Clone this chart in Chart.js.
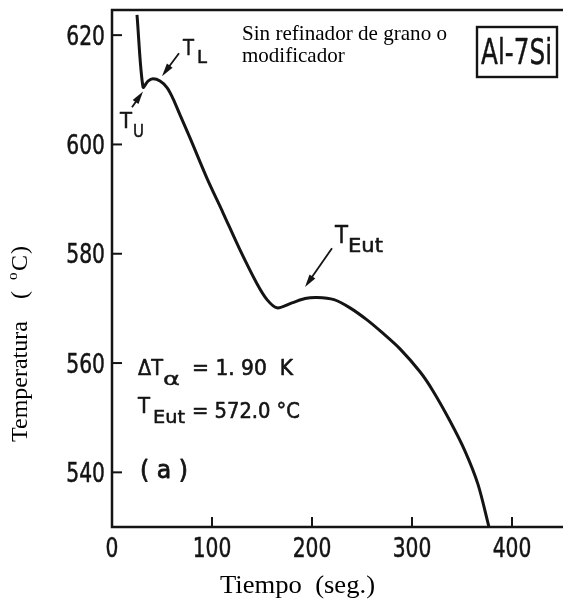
<!DOCTYPE html>
<html>
<head>
<meta charset="utf-8">
<script src="https://cdn.jsdelivr.net/npm/chart.js@4.4.1/dist/chart.umd.min.js"></script>
<style>
  html, body { margin: 0; padding: 0; background: #fff; }
  #wrap { width: 563px; height: 603px; }
</style>
</head>
<body>
<div id="wrap"><canvas id="curva"></canvas></div>
<script>
// curva de enfriamiento Al-7Si, tiempo (s) vs temperatura (°C)
const TIEMPO = [25, 31, 36, 41, 48, 55, 61, 68, 78, 95, 111, 128, 145, 155, 165,
                180, 193, 205, 222, 238, 255, 270, 288, 308, 321, 338, 353, 366, 377];
const TEMP   = [623.7, 610.5, 611.6, 612.0, 611.6, 610.4, 608.4, 605.4, 601.2, 593.8,
                587.5, 580.7, 574.5, 571.6, 570.1, 571.0, 571.8, 572.0, 571.6, 570.1,
                567.9, 565.6, 562.6, 558.4, 554.9, 549.4, 543.9, 537.8, 530.0];

const X_TICKS = [0, 100, 200, 300, 400];
const Y_TICKS = [540, 560, 580, 600, 620];

const T_EUT   = '572.0';
const DELTA_T = '1.90';

const TINTA = '#141414';
const SANS  = "'DejaVu Sans', sans-serif";
const SERIF = "'Liberation Serif', 'Times New Roman', serif";

// texto con compresion horizontal (ancho fijo o factor); grueso = trazo extra
function texto(ctx, str, x, y, size, fam, opts) {
  opts = opts || {};
  ctx.save();
  ctx.font = size + 'px ' + fam;
  const w = ctx.measureText(str).width;
  let sx = opts.sx || 1;
  if (opts.ancho) sx = opts.ancho / w;
  ctx.translate(x, y);
  ctx.scale(sx, 1);
  ctx.textAlign = opts.align || 'left';
  ctx.textBaseline = 'alphabetic';
  ctx.fillStyle = opts.color || TINTA;
  ctx.fillText(str, 0, 0);
  if (opts.grueso) {
    ctx.strokeStyle = opts.color || TINTA;
    ctx.lineWidth = opts.grueso;
    ctx.lineJoin = 'round';
    ctx.strokeText(str, 0, 0);
  }
  ctx.restore();
}

function flecha(ctx, x0, y0, x1, y1) {
  const ang = Math.atan2(y1 - y0, x1 - x0);
  const largo = 13, medio = 3.5;
  ctx.save();
  ctx.strokeStyle = TINTA;
  ctx.fillStyle = TINTA;
  ctx.lineWidth = 1.8;
  ctx.beginPath();
  ctx.moveTo(x0, y0);
  ctx.lineTo(x1 - Math.cos(ang) * largo * 0.8, y1 - Math.sin(ang) * largo * 0.8);
  ctx.stroke();
  ctx.beginPath();
  ctx.moveTo(x1, y1);
  ctx.lineTo(x1 - Math.cos(ang) * largo - Math.sin(ang) * medio,
             y1 - Math.sin(ang) * largo + Math.cos(ang) * medio);
  ctx.lineTo(x1 - Math.cos(ang) * largo + Math.sin(ang) * medio,
             y1 - Math.sin(ang) * largo - Math.cos(ang) * medio);
  ctx.closePath();
  ctx.fill();
  ctx.restore();
}

const marco = {
  id: 'marco',
  afterDraw(chart) {
    const ctx = chart.ctx;
    const a = chart.chartArea;
    const sx = chart.scales.x, sy = chart.scales.y;

    // ejes y borde superior
    ctx.save();
    ctx.strokeStyle = TINTA;
    ctx.lineWidth = 2.5;
    ctx.beginPath();
    ctx.moveTo(a.right, a.top);
    ctx.lineTo(a.left, a.top);
    ctx.lineTo(a.left, a.bottom);
    ctx.lineTo(a.right, a.bottom);
    ctx.stroke();

    // marcas hacia adentro
    ctx.lineWidth = 2;
    Y_TICKS.forEach(v => {
      const py = sy.getPixelForValue(v);
      ctx.beginPath();
      ctx.moveTo(a.left, py);
      ctx.lineTo(a.left + 10, py);
      ctx.stroke();
      texto(ctx, String(v), a.left - 7, py + 9.5, 26, SANS, { sx: 0.78, align: 'right', grueso: 0.5 });
    });
    X_TICKS.forEach(v => {
      const px = sx.getPixelForValue(v);
      ctx.beginPath();
      ctx.moveTo(px, a.bottom);
      ctx.lineTo(px, a.bottom - 10);
      ctx.stroke();
      texto(ctx, String(v), px, 557, 26, SANS, { sx: 0.78, align: 'center', grueso: 0.5 });
    });
    ctx.restore();

    // titulos de ejes
    texto(ctx, 'Tiempo  (seg.)', 220, 593, 26, SERIF, { ancho: 155, color: '#000' });
    ctx.save();
    ctx.translate(27, 442);
    ctx.rotate(-Math.PI / 2);
    texto(ctx, 'Temperatura', 0, 0, 24, SERIF, { color: '#000' });
    texto(ctx, '(', 143, 0, 24, SERIF, { color: '#000' });
    texto(ctx, 'o', 162, -10, 15, SERIF, { color: '#000' });
    texto(ctx, 'C', 171, 0, 24, SERIF, { color: '#000' });
    texto(ctx, ')', 188, 0, 24, SERIF, { color: '#000' });
    ctx.restore();

    // nota superior
    texto(ctx, 'Sin refinador de grano o', 242, 40, 21, SERIF, { ancho: 205, color: '#000' });
    texto(ctx, 'modificador', 242, 62, 21, SERIF, { color: '#000' });

    // recuadro de aleacion
    ctx.save();
    ctx.strokeStyle = TINTA;
    ctx.lineWidth = 2.4;
    ctx.strokeRect(477, 27, 80, 50);
    ctx.restore();
    texto(ctx, 'Al-7Si', 481, 64, 36, SANS, { ancho: 71, grueso: 0.5 });

    // flechas T_U, T_L, T_Eut (coordenadas tiempo/temperatura)
    const P = (t, T) => [sx.getPixelForValue(t), sy.getPixelForValue(T)];
    let p0 = P(20, 606.8), p1 = P(31, 609.7);
    flecha(ctx, p0[0], p0[1], p1[0], p1[1]);
    p0 = P(67, 616.7); p1 = P(50, 612.5);
    flecha(ctx, p0[0], p0[1], p1[0], p1[1]);
    p0 = P(220, 581.0); p1 = P(193, 573.9);
    flecha(ctx, p0[0], p0[1], p1[0], p1[1]);

    texto(ctx, 'T', 183, 55, 21, SANS, { ancho: 11, grueso: 0.5 });
    texto(ctx, 'L', 197, 63, 18, SANS, { ancho: 10, grueso: 0.5 });
    texto(ctx, 'T', 120, 128, 21, SANS, { ancho: 12, grueso: 0.5 });
    texto(ctx, 'U', 133, 137, 18, SANS, { ancho: 11, grueso: 0.5 });
    texto(ctx, 'T', 335, 243, 24, SANS, { ancho: 13, grueso: 0.5 });
    texto(ctx, 'Eut', 348, 252, 19, SANS, { ancho: 35, grueso: 0.5 });

    // resultados
    texto(ctx, 'ΔT', 138, 375, 21, SANS, { ancho: 25, grueso: 0.6 });
    texto(ctx, 'α', 163, 385, 17, SANS, { ancho: 17, grueso: 0.4 });
    texto(ctx, '= 1. 90  K', 192, 375, 21, SANS, { ancho: 101, grueso: 0.6 });
    texto(ctx, 'T', 138, 413, 21, SANS, { ancho: 12, grueso: 0.6 });
    texto(ctx, 'Eut', 153, 423, 17, SANS, { ancho: 32, grueso: 0.5 });
    texto(ctx, '= ' + T_EUT + ' °C', 192, 418, 21, SANS, { ancho: 108, grueso: 0.6 });
    texto(ctx, '( a )', 140, 478, 25, SANS, { ancho: 48, grueso: 0.8 });
  }
};

new Chart(document.getElementById('curva').getContext('2d'), {
  type: 'line',
  data: {
    datasets: [{
      data: TIEMPO.map((t, i) => ({ x: t, y: TEMP[i] })),
      borderColor: TINTA,
      borderWidth: 3,
      pointRadius: 0,
      tension: 0.3,
      fill: false,
    }]
  },
  options: {
    responsive: true,
    maintainAspectRatio: false,
    animation: false,
    devicePixelRatio: 1,
    layout: { padding: { top: 10, right: 0, bottom: 0, left: 0 } },
    plugins: { legend: { display: false }, tooltip: { enabled: false } },
    scales: {
      x: {
        type: 'linear',
        min: 0,
        max: 451,
        ticks: { display: false },
        grid: { display: false },
        border: { display: false },
        afterBuildTicks: s => { s.ticks = X_TICKS.map(v => ({ value: v })); },
        afterFit: s => { s.height = 76; }
      },
      y: {
        min: 530,
        max: 624.6,
        ticks: { display: false },
        grid: { display: false },
        border: { display: false },
        afterBuildTicks: s => { s.ticks = Y_TICKS.map(v => ({ value: v })); },
        afterFit: s => { s.width = 112; }
      }
    }
  },
  plugins: [marco]
});
</script>
</body>
</html>
